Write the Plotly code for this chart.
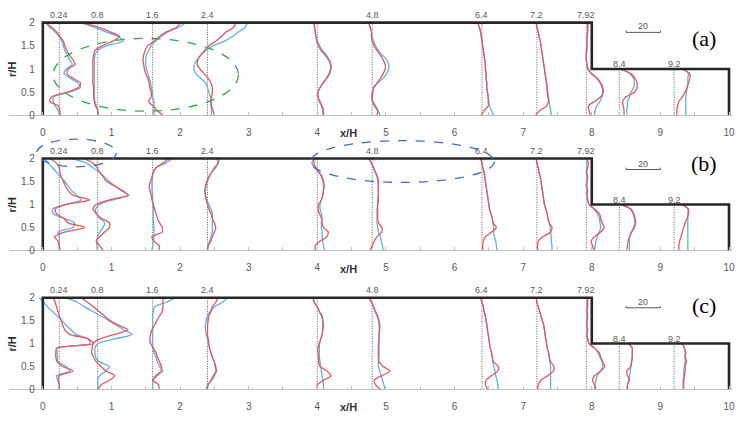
import plotly.graph_objects as go

# ---------------- data ----------------
STATIONS = [0.24, 0.8, 1.6, 2.4, 4.0, 4.8, 6.4, 7.2, 7.92, 8.4, 9.2]
STATION_LABELS = ["0.24", "0.8", "1.6", "2.4", "", "4.8", "6.4", "7.2", "7.92", "8.4", "9.2"]
R_FULL = [round(0.1 * i, 1) for i in range(21)]   # r/H for stations upstream of the step
R_STEP = [round(0.1 * i, 1) for i in range(11)]   # r/H for stations downstream of the step
X_TICKS = [0, 1, 2, 3, 4, 5, 6, 7, 8, 9, 10]
Y_TICKS = [0, 0.5, 1, 1.5, 2]
Y_TICK_TEXT = ["0", "0.5", "1", "1.5", "2"]
GEOM_X = [0, 0, 8, 8, 10, 10]
GEOM_Y = [0, 2, 2, 1, 1, 0]
SCALE_VALUE = 20          # velocity of the scale bar
SCALE_LENGTH = 0.5        # x/H length of the scale bar

# profile displacement (x/H) from each station line, panel (a)
RED_A = [
    [0.01,0.01,-0.01,-0.14,-0.11,0.12,0.28,0.31,0.2,0.11,0.13,0.23,0.2,0.15,0.11,0.08,0.06,0.01,-0.04,-0.11,-0.2],
    [0.01,0.0,-0.03,-0.05,-0.06,-0.06,-0.06,-0.07,-0.07,-0.07,-0.07,-0.07,-0.07,-0.06,-0.04,0.06,0.22,0.32,0.18,0.02,-0.25],
    [0.15,0.07,0.01,-0.06,-0.02,-0.02,-0.04,-0.05,-0.07,-0.1,-0.12,-0.13,-0.14,-0.13,-0.11,-0.07,0.02,0.1,0.2,0.35,0.41],
    [0.1,0.08,0.06,0.05,0.06,0.07,0.07,0.05,0.01,-0.05,-0.11,-0.15,-0.14,-0.1,-0.04,0.02,0.12,0.2,0.27,0.38,0.41],
    [0.09,0.09,0.07,0.04,0.01,0.01,0.04,0.09,0.14,0.18,0.2,0.2,0.17,0.13,0.07,0.03,0.0,-0.02,-0.03,-0.04,-0.05],
    [0.07,0.08,0.05,0.01,0.0,0.01,0.02,0.07,0.12,0.16,0.19,0.19,0.16,0.12,0.07,0.03,0.0,-0.01,-0.01,-0.03,-0.05],
    [-0.01,0.03,0.09,0.09,0.09,0.08,0.07,0.07,0.06,0.06,0.05,0.05,0.04,0.03,0.02,0.01,0.0,-0.01,-0.02,-0.04,-0.06],
    [-0.02,0.04,0.14,0.17,0.16,0.15,0.15,0.14,0.13,0.12,0.11,0.1,0.09,0.08,0.07,0.06,0.05,0.03,0.02,0.0,-0.01],
    [0.06,0.04,0.03,0.12,0.21,0.25,0.24,0.21,0.16,0.08,0.03,0.01,0.0,0.0,0.0,0.01,0.01,0.01,0.02,0.02,0.03],
    [0.07,0.07,0.06,0.05,0.1,0.22,0.26,0.26,0.23,0.17,0.02],
    [0.04,0.04,0.05,0.07,0.12,0.16,0.19,0.21,0.23,0.23,0.12],
]
BLUE_A = [
    [0.0,-0.01,-0.06,-0.09,-0.08,0.14,0.31,0.27,0.16,0.07,0.1,0.19,0.15,0.12,0.08,0.06,0.04,0.0,-0.06,-0.14,-0.2],
    [0.0,0.0,-0.02,-0.04,-0.05,-0.05,-0.05,-0.05,-0.05,-0.05,-0.05,-0.05,-0.05,-0.04,0.0,0.12,0.37,0.3,0.12,-0.04,-0.26],
    [0.02,0.02,0.02,0.02,0.0,0.0,-0.02,-0.03,-0.05,-0.07,-0.09,-0.1,-0.1,-0.09,-0.06,-0.02,0.04,0.12,0.22,0.38,0.48],
    [0.05,0.06,0.05,0.05,0.04,0.02,0.0,-0.03,-0.1,-0.17,-0.2,-0.19,-0.15,-0.1,-0.02,0.08,0.25,0.36,0.45,0.55,0.58],
    [0.08,0.08,0.06,0.03,0.01,0.01,0.04,0.08,0.13,0.17,0.19,0.19,0.16,0.11,0.05,0.01,-0.01,-0.02,-0.03,-0.04,-0.05],
    [0.12,0.08,0.03,0.0,-0.01,0.0,0.03,0.08,0.16,0.21,0.24,0.24,0.21,0.15,0.09,0.05,0.02,0.0,-0.01,-0.03,-0.05],
    [0.17,0.14,0.11,0.1,0.09,0.08,0.07,0.07,0.06,0.06,0.05,0.05,0.04,0.03,0.02,0.01,0.0,-0.01,-0.02,-0.04,-0.06],
    [0.21,0.2,0.19,0.18,0.17,0.16,0.15,0.14,0.13,0.12,0.11,0.1,0.09,0.08,0.07,0.06,0.05,0.03,0.02,0.0,-0.01],
    [0.12,0.13,0.15,0.2,0.23,0.24,0.23,0.2,0.15,0.07,0.02,0.01,0.0,0.0,0.01,0.01,0.01,0.01,0.02,0.02,0.02],
    [0.11,0.11,0.12,0.12,0.15,0.17,0.21,0.22,0.21,0.15,0.02],
    [0.17,0.17,0.17,0.17,0.17,0.18,0.19,0.2,0.2,0.21,0.13],
]

# panel (b)
RED_B = [
    [0.01,0.0,-0.02,-0.07,0.08,0.37,0.13,0.06,-0.04,-0.06,0.1,0.44,0.2,0.13,0.09,0.06,0.03,0.01,0.0,-0.04,-0.14],
    [0.08,0.03,-0.02,0.03,0.1,0.17,0.17,0.05,-0.02,-0.07,-0.02,0.17,0.44,0.37,0.25,0.13,0.08,0.03,-0.01,-0.07,-0.21],
    [0.09,0.1,0.02,-0.01,0.14,0.14,0.1,0.07,0.05,0.03,0.01,-0.01,-0.02,-0.04,-0.05,-0.03,-0.01,0.01,0.05,0.15,0.24],
    [0.0,0.01,0.05,0.07,0.1,0.12,0.1,0.07,0.05,0.02,0.0,-0.02,-0.03,-0.04,-0.03,-0.01,0.02,0.06,0.1,0.15,0.15],
    [-0.03,-0.03,0.04,0.14,0.16,0.09,0.07,0.06,0.03,0.01,0.02,0.06,0.08,0.09,0.1,0.09,0.07,0.03,-0.02,-0.05,-0.05],
    [-0.03,0.0,0.03,0.07,0.14,0.14,0.09,0.08,0.08,0.08,0.08,0.09,0.09,0.09,0.09,0.09,0.08,0.05,0.02,-0.01,-0.05],
    [0.01,0.01,0.02,0.05,0.14,0.21,0.16,0.15,0.13,0.11,0.1,0.09,0.08,0.07,0.06,0.05,0.04,0.03,0.01,0.0,-0.02],
    [0.01,0.01,0.02,0.09,0.2,0.22,0.18,0.16,0.15,0.13,0.11,0.1,0.09,0.08,0.07,0.06,0.05,0.03,0.02,0.0,-0.01],
    [0.11,0.09,0.07,0.12,0.21,0.26,0.23,0.21,0.19,0.12,0.04,0.02,0.01,0.02,0.0,0.01,0.02,0.0,0.02,0.03,0.01],
    [0.11,0.12,0.13,0.15,0.18,0.22,0.24,0.23,0.21,0.17,0.02],
    [0.07,0.07,0.08,0.1,0.12,0.14,0.16,0.19,0.21,0.21,0.12],
]
BLUE_B = [
    [0.0,0.0,0.0,0.0,-0.02,0.2,0.22,0.06,-0.09,-0.1,0.1,0.32,0.25,0.18,0.13,0.08,0.02,-0.04,-0.1,-0.16,-0.22],
    [-0.01,-0.01,-0.02,0.0,0.03,0.08,0.1,0.03,-0.02,-0.03,0.03,0.22,0.46,0.34,0.25,0.17,0.1,0.03,-0.07,-0.16,-0.38],
    [-0.01,0.0,0.01,0.02,0.02,0.02,0.01,0.01,0.01,0.01,0.01,0.0,0.0,-0.01,-0.01,-0.01,0.0,0.01,0.05,0.19,0.29],
    [0.0,0.01,0.03,0.05,0.07,0.07,0.07,0.07,0.07,0.05,0.02,-0.01,-0.03,-0.03,-0.02,0.0,0.02,0.06,0.12,0.16,0.17],
    [0.11,0.09,0.08,0.07,0.07,0.06,0.06,0.07,0.06,0.04,0.04,0.06,0.08,0.09,0.09,0.08,0.06,0.02,-0.04,-0.08,-0.05],
    [0.16,0.15,0.13,0.12,0.09,0.08,0.07,0.07,0.07,0.07,0.08,0.08,0.09,0.09,0.09,0.08,0.07,0.04,0.02,-0.01,-0.05],
    [0.22,0.21,0.2,0.18,0.17,0.17,0.16,0.15,0.13,0.11,0.1,0.09,0.08,0.07,0.06,0.05,0.04,0.03,0.01,0.0,-0.02],
    [0.22,0.22,0.21,0.21,0.2,0.19,0.18,0.16,0.15,0.13,0.11,0.1,0.09,0.08,0.07,0.06,0.05,0.03,0.02,0.0,-0.01],
    [0.12,0.13,0.14,0.16,0.19,0.21,0.2,0.19,0.16,0.11,0.04,0.02,0.01,0.01,0.01,0.01,0.01,0.01,0.01,0.01,0.01],
    [0.15,0.15,0.15,0.15,0.18,0.21,0.23,0.22,0.2,0.16,0.02],
    [0.2,0.2,0.2,0.2,0.2,0.2,0.2,0.2,0.2,0.2,0.12],
]

# panel (c)
RED_C = [
    [0.0,0.0,-0.02,0.0,0.2,0.05,-0.03,-0.05,-0.05,-0.04,0.5,0.42,0.15,0.08,0.05,0.03,0.0,-0.02,-0.04,-0.06,-0.09],
    [0.0,0.05,0.17,0.25,0.12,0.05,-0.02,-0.06,-0.09,-0.08,-0.07,0.03,0.25,0.44,0.3,0.18,0.1,0.02,-0.06,-0.15,-0.24],
    [0.09,0.09,0.0,0.05,0.12,0.13,0.1,0.07,0.05,0.01,-0.03,-0.04,-0.03,-0.01,0.03,0.06,0.1,0.14,0.15,0.15,0.15],
    [0.0,0.01,0.06,0.1,0.13,0.12,0.1,0.07,0.05,0.03,0.02,0.01,0.0,0.0,0.0,0.01,0.02,0.05,0.07,0.12,0.15],
    [0.0,0.0,0.09,0.2,0.14,0.04,0.02,0.02,0.01,0.01,0.03,0.05,0.07,0.08,0.09,0.08,0.07,0.03,0.0,-0.05,-0.06],
    [0.12,0.05,0.03,0.14,0.26,0.16,0.1,0.09,0.09,0.09,0.09,0.1,0.1,0.11,0.11,0.1,0.08,0.05,0.02,-0.01,-0.05],
    [0.08,0.05,0.06,0.14,0.23,0.24,0.17,0.15,0.14,0.12,0.11,0.1,0.09,0.08,0.07,0.06,0.05,0.03,0.02,0.0,-0.02],
    [0.01,0.02,0.06,0.16,0.24,0.25,0.2,0.18,0.17,0.15,0.14,0.13,0.12,0.11,0.1,0.08,0.06,0.04,0.02,0.0,-0.01],
    [0.14,0.12,0.09,0.12,0.21,0.27,0.24,0.21,0.19,0.12,0.04,0.02,0.01,0.02,0.01,0.01,0.02,0.01,0.02,0.02,0.02],
    [0.12,0.12,0.15,0.12,0.11,0.17,0.18,0.19,0.19,0.19,0.13],
    [0.14,0.14,0.14,0.15,0.16,0.16,0.18,0.16,0.17,0.15,0.12],
]
BLUE_C = [
    [0.0,0.0,-0.02,-0.04,0.15,0.1,-0.02,-0.03,-0.03,-0.03,0.45,0.42,0.24,0.17,0.1,0.04,-0.03,-0.1,-0.17,-0.23,-0.29],
    [0.0,0.0,0.0,0.03,0.12,0.17,0.02,-0.03,-0.04,-0.04,0.0,0.25,0.5,0.38,0.27,0.16,0.05,-0.07,-0.19,-0.3,-0.48],
    [0.0,0.0,0.01,0.07,0.15,0.1,0.07,0.05,0.02,0.01,0.0,0.0,0.0,0.0,0.0,0.0,0.0,0.01,0.03,0.2,0.34],
    [-0.02,0.0,0.05,0.08,0.12,0.11,0.1,0.07,0.05,0.03,0.01,0.0,-0.02,-0.03,-0.03,-0.02,0.0,0.04,0.1,0.22,0.29],
    [0.09,0.09,0.08,0.07,0.06,0.05,0.04,0.03,0.03,0.03,0.03,0.05,0.07,0.08,0.08,0.08,0.06,0.03,0.0,-0.04,-0.06],
    [0.19,0.17,0.15,0.13,0.11,0.09,0.09,0.1,0.1,0.1,0.1,0.1,0.1,0.1,0.1,0.09,0.07,0.04,0.02,-0.01,-0.05],
    [0.24,0.23,0.22,0.2,0.19,0.17,0.16,0.15,0.14,0.12,0.11,0.1,0.09,0.08,0.07,0.06,0.05,0.03,0.02,0.0,-0.02],
    [0.2,0.2,0.2,0.2,0.2,0.2,0.19,0.18,0.17,0.15,0.14,0.13,0.12,0.11,0.1,0.08,0.06,0.04,0.02,0.0,-0.01],
    [0.12,0.13,0.14,0.16,0.21,0.24,0.23,0.2,0.17,0.12,0.04,0.02,0.01,0.01,0.01,0.01,0.01,0.01,0.01,0.01,0.01],
    [0.12,0.12,0.14,0.15,0.16,0.17,0.18,0.19,0.19,0.19,0.13],
    [0.13,0.13,0.13,0.14,0.14,0.15,0.16,0.16,0.16,0.15,0.12],
]

# ---------------- styling / layout ----------------
W, H = 737, 421
RED = "#E5575F"
BLUE = "#62B0E4"
GRAY = "#595959"
FONT = "Liberation Sans"
X_RANGE = [-0.5, 10.05]
X0_PX, PPU_X = 43.0, 68.9          # pixel of x/H = 0 and pixels per x/H

panels = [
    dict(series=(RED_A, BLUE_A), r0=117, ppu=47.0, top=2.45, label="(a)", label_r=1.66,
         bar_r=1.79, xlab_px=135,
         ellipses=[dict(x0=0.15, x1=2.85, y0=0.09, y1=1.66, color="#2EAA4A")]),
    dict(series=(RED_B, BLUE_B), r0=254, ppu=46.6, top=2.5, label="(b)", label_r=1.89,
         bar_r=1.76, xlab_px=273,
         ellipses=[dict(x0=-0.09, x1=1.07, y0=1.82, y1=2.42, color="#3C70C8"),
                   dict(x0=3.9, x1=6.58, y0=1.48, y1=2.39, color="#3C70C8")]),
    dict(series=(RED_C, BLUE_C), r0=395, ppu=46.5, top=2.5, label="(c)", label_r=1.83,
         bar_r=1.78, xlab_px=413, ellipses=[]),
]

fig = go.Figure()
layout = dict(width=W, height=H, margin=dict(l=0, r=0, t=0, b=0),
              paper_bgcolor="white", plot_bgcolor="rgba(0,0,0,0)", showlegend=False)
annotations, shapes = [], []


def note(**kw):
    kw.setdefault("showarrow", False)
    kw.setdefault("xanchor", "center")
    kw.setdefault("yanchor", "middle")
    annotations.append(kw)


x_left_px = X0_PX + X_RANGE[0] * PPU_X
x_right_px = X0_PX + X_RANGE[1] * PPU_X

for i, p in enumerate(panels):
    sfx = "" if i == 0 else str(i + 1)
    xa, ya = "x" + sfx, "y" + sfx
    red, blue = p["series"]

    # station dotted lines
    for k, s in enumerate(STATIONS):
        rr = R_STEP if s > 8 else R_FULL
        fig.add_trace(go.Scatter(x=[s, s], y=[0, rr[-1]], mode="lines", xaxis=xa, yaxis=ya,
                                 line=dict(color="#5a5a5a", width=1, dash="1px,1.5px"),
                                 hoverinfo="skip"))
    # profiles
    for data, col in ((blue, BLUE), (red, RED)):
        for k, s in enumerate(STATIONS):
            rr = R_STEP if s > 8 else R_FULL
            fig.add_trace(go.Scatter(x=[s + d for d in data[k]], y=rr, mode="lines",
                                     xaxis=xa, yaxis=ya,
                                     line=dict(color=col, width=1.3, shape="spline", smoothing=0.7),
                                     hoverinfo="skip"))
    # geometry outline
    fig.add_trace(go.Scatter(x=GEOM_X, y=GEOM_Y, mode="lines", xaxis=xa, yaxis=ya,
                             line=dict(color="#262626", width=2.6), hoverinfo="skip"))
    # scale bar
    b = p["bar_r"]
    fig.add_trace(go.Scatter(x=[8.5, 8.5, 8.5 + SCALE_LENGTH, 8.5 + SCALE_LENGTH],
                             y=[b + 0.04, b, b, b + 0.04], mode="lines", xaxis=xa, yaxis=ya,
                             line=dict(color=GRAY, width=1), hoverinfo="skip"))
    note(x=8.5 + SCALE_LENGTH / 2, y=b + 0.13, xref=xa, yref=ya, text=str(SCALE_VALUE),
         font=dict(family=FONT, size=9, color=GRAY))

    # station labels
    for s, lab in zip(STATIONS, STATION_LABELS):
        if not lab:
            continue
        yy = 1.1 if s > 8 else 2.17
        note(x=s, y=yy, xref=xa, yref=ya, text=lab, font=dict(family=FONT, size=9, color=GRAY))
    # panel label
    note(x=9.64, y=p["label_r"], xref=xa, yref=ya, text=p["label"],
         font=dict(family="Liberation Serif", size=22, color="black"))
    # axis titles
    note(x=4.45, y=1 - p["xlab_px"] / H, xref=xa, yref="paper", text="<b>x/H</b>",
         font=dict(family=FONT, size=11, color="#303030"))
    note(x=12 / W, y=1.0, xref="paper", yref=ya, text="<b>r/H</b>", textangle=-90,
         font=dict(family=FONT, size=11, color="#303030"))
    # ellipses
    for e in p["ellipses"]:
        shapes.append(dict(type="circle", xref=xa, yref=ya, x0=e["x0"], x1=e["x1"],
                           y0=e["y0"], y1=e["y1"],
                           line=dict(color=e["color"], width=1.3, dash="dash")))

    # axes
    y_bot = 1 - p["r0"] / H
    y_top = 1 - (p["r0"] - p["top"] * p["ppu"]) / H
    layout["xaxis" + sfx] = dict(domain=[x_left_px / W, x_right_px / W], range=X_RANGE,
                                anchor=ya, showline=True, linecolor="#BFBFBF", linewidth=1,
                                tickvals=X_TICKS, ticks="inside", ticklen=3, tickcolor="#BFBFBF",
                                minor=dict(dtick=0.5, tick0=0, ticks="inside", ticklen=3,
                                           tickcolor="#BFBFBF"),
                                ticklabelstandoff=8, ticklabeloverflow="allow",
                                showgrid=False, zeroline=False,
                                tickfont=dict(family=FONT, size=10, color=GRAY))
    layout["yaxis" + sfx] = dict(domain=[y_bot, y_top], range=[0, p["top"]],
                                anchor="free", position=X0_PX / W, showline=False,
                                tickvals=Y_TICKS, ticktext=Y_TICK_TEXT, ticks="outside",
                                ticklen=6, tickcolor="rgba(0,0,0,0)", showgrid=False,
                                zeroline=False, tickfont=dict(family=FONT, size=10, color=GRAY))

layout["annotations"] = annotations
layout["shapes"] = shapes
fig.update_layout(**layout)
fig.write_html("out.html", config={"displayModeBar": False},
               post_script="document.body.style.margin='0';document.body.style.overflow='hidden';")
